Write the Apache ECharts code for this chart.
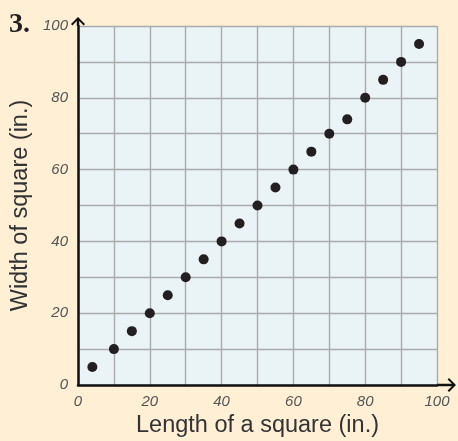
<!DOCTYPE html>
<html>
<head>
<meta charset="utf-8">
<script src="https://cdn.jsdelivr.net/npm/echarts@6/dist/echarts.min.js"></script>
<style>
html,body{margin:0;padding:0;background:#FEEFD5;}
#chart{width:458px;height:441px;}
</style>
</head>
<body>
<div id="chart"></div>
<script>
// Data
const lengths = [4, 10, 15, 20, 25, 30, 35, 40, 45, 50, 55, 60, 65, 70, 75, 80, 85, 90, 95];
const widths  = [5, 10, 15, 20, 25, 30, 35, 40, 45, 50, 55, 60, 65, 70, 74, 80, 85, 90, 95];
const xTicks = [0, 20, 40, 60, 80, 100];
const yTicks = [0, 20, 40, 60, 80, 100];
const xTitle = 'Length of a square (in.)';
const yTitle = 'Width of square (in.)';
const problemLabel = '3.';

const points = lengths.map((x, i) => [x, widths[i]]);

const chevronY = 'path://M7,0 L14,7 L12.6,8.4 L7,2.8 L1.4,8.4 L0,7 Z M5.8,1 L8.2,1 L8.2,9 L5.8,9 Z';
const chevronX = 'path://M7,0 L14,7 L12.6,8.4 L7,2.8 L1.4,8.4 L0,7 Z M5.8,1 L8.2,1 L8.2,19 L5.8,19 Z';

const labelStyle = {
  fontFamily: 'Liberation Sans',
  fontStyle: 'italic',
  fontSize: 15,
  color: '#555555'
};

const chart = echarts.init(document.getElementById('chart'), null, {renderer: 'canvas'});
chart.setOption({
  backgroundColor: '#FEEFD5',
  animation: false,
  title: {
    text: problemLabel,
    left: 9,
    top: 11,
    padding: 0,
    textStyle: {fontFamily: 'Liberation Serif', fontWeight: 'bold', fontSize: 28, color: '#231f20'}
  },
  grid: {
    left: 78, right: 21, top: 26, bottom: 56,
    outerBoundsMode: 'none',
    containLabel: false,
    show: true,
    backgroundColor: '#EAF3F6',
    borderWidth: 0
  },
  xAxis: {
    type: 'value',
    min: 0, max: 100, interval: 10,
    name: xTitle,
    nameLocation: 'middle',
    nameGap: 29,
    nameTextStyle: {fontFamily: 'Liberation Sans', fontSize: 23.5, color: '#333333'},
    axisLine: {
      show: true, onZero: false,
      lineStyle: {color: '#111111', width: 2.5},
      symbol: ['none', chevronX],
      symbolSize: [14, 19],
      symbolOffset: [0, 9.5]
    },
    axisTick: {show: false},
    splitLine: {show: true, lineStyle: {color: '#ababae', width: 1.4}},
    axisLabel: Object.assign({
      margin: 9,
      formatter: v => xTicks.includes(v) ? String(v) : ''
    }, labelStyle)
  },
  yAxis: {
    type: 'value',
    min: 0, max: 100, interval: 10,
    name: yTitle,
    nameLocation: 'middle',
    nameGap: 44,
    nameTextStyle: {fontFamily: 'Liberation Sans', fontSize: 23.5, color: '#333333'},
    axisLine: {
      show: true, onZero: false,
      lineStyle: {color: '#111111', width: 2.5},
      symbol: ['none', chevronY],
      symbolSize: [14, 9],
      symbolOffset: [0, 4.5]
    },
    axisTick: {show: false},
    splitLine: {show: true, lineStyle: {color: '#ababae', width: 1.4}},
    axisLabel: Object.assign({
      margin: 10,
      formatter: v => yTicks.includes(v) ? String(v) : ''
    }, labelStyle)
  },
  series: [{
    type: 'scatter',
    data: points,
    symbol: 'circle',
    symbolSize: 10,
    itemStyle: {color: '#231f20', opacity: 1},
    z: 5
  }]
});
</script>
</body>
</html>
